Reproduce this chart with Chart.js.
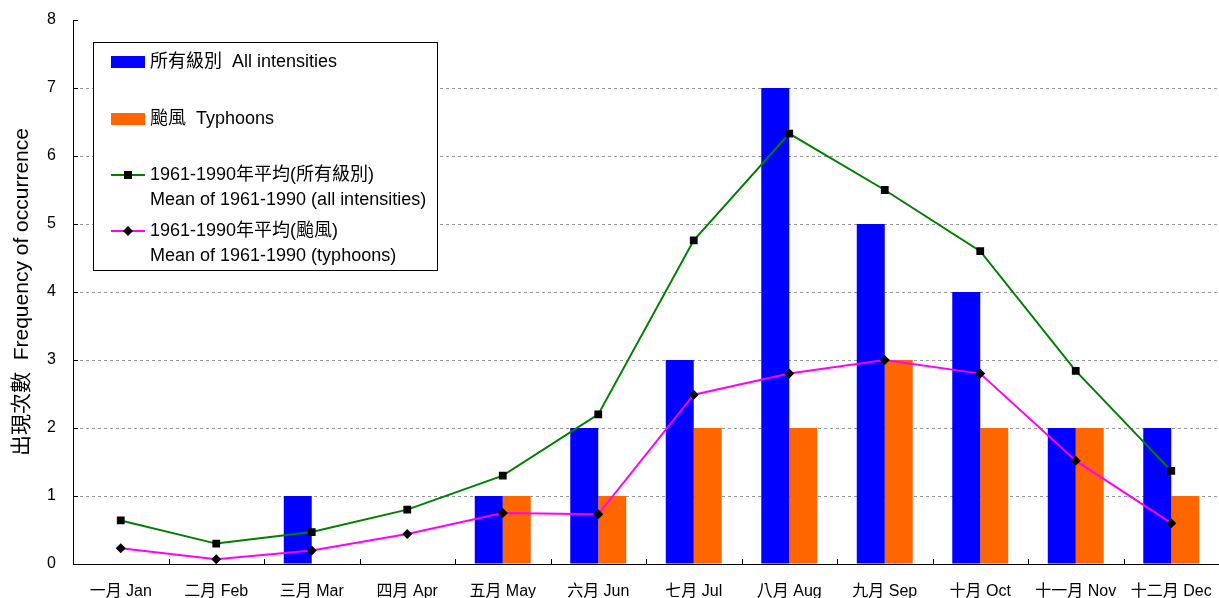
<!DOCTYPE html>
<html>
<head>
<meta charset="utf-8">
<script src="https://cdn.jsdelivr.net/npm/chart.js@4.4.1/dist/chart.umd.min.js"></script>
<style>
    html, body { margin: 0; padding: 0; background: #fff; overflow: hidden; }
    #wrap { width: 1219px; height: 598px; }
    #wrap canvas { display: block; }
</style>
</head>
<body>
<div id="wrap"><canvas id="tc-chart"></canvas></div>
<script>
// 每月熱帶氣旋出現次數 — 數值由原圖讀出
const months = ['一月 Jan', '二月 Feb', '三月 Mar', '四月 Apr', '五月 May', '六月 Jun',
    '七月 Jul', '八月 Aug', '九月 Sep', '十月 Oct', '十一月 Nov', '十二月 Dec'];
const allIntensities = [0, 0, 1, 0, 1, 2, 3, 7, 5, 4, 2, 2];
const typhoons = [0, 0, 0, 0, 1, 1, 2, 2, 3, 2, 2, 1];
const meanAll = [0.64, 0.30, 0.47, 0.80, 1.30, 2.20, 4.76, 6.33, 5.50, 4.60, 2.84, 1.37];
const meanTyphoons = [0.23, 0.07, 0.20, 0.44, 0.75, 0.73, 2.49, 2.80, 3.00, 2.80, 1.52, 0.60];
const yTitle = '出現次數  Frequency of occurrence';

const FONT = '"Liberation Sans", Arial, "Noto Sans CJK TC", sans-serif';

// legend in a framed box, top-left of the plot
const legendBox = {
    id: 'legendBox',
    afterDraw(chart) {
        const ctx = chart.ctx;
        const ds = chart.data.datasets;
        const x0 = 93, y0 = 42, w = 344, h = 228;
        ctx.save();
        ctx.fillStyle = '#fff';
        ctx.fillRect(x0, y0, w, h);
        ctx.strokeStyle = '#000';
        ctx.lineWidth = 1;
        ctx.strokeRect(x0 + 0.5, y0 + 0.5, w, h);

        ctx.font = '18px ' + FONT;
        ctx.textBaseline = 'middle';
        ctx.textAlign = 'left';

        const rows = [
            { d: ds[2], y: 62 },
            { d: ds[3], y: 119 },
            { d: ds[0], y: 175 },
            { d: ds[1], y: 231 },
        ];
        rows.forEach(({ d, y }) => {
            if (d.type === 'line') {
                ctx.strokeStyle = d.borderColor;
                ctx.lineWidth = 2;
                ctx.beginPath();
                ctx.moveTo(111, y);
                ctx.lineTo(145, y);
                ctx.stroke();
                ctx.fillStyle = '#000';
                ctx.beginPath();
                if (d.pointStyle === 'rect') {
                    ctx.rect(124, y - 4, 8, 8);
                } else {
                    ctx.moveTo(128, y - 5);
                    ctx.lineTo(133, y);
                    ctx.lineTo(128, y + 5);
                    ctx.lineTo(123, y);
                    ctx.closePath();
                }
                ctx.fill();
            } else {
                ctx.fillStyle = d.backgroundColor;
                ctx.fillRect(111, y - 6, 34, 12);
            }
            ctx.fillStyle = '#000';
            const lines = Array.isArray(d.label) ? d.label : [d.label];
            lines.forEach((t, i) => ctx.fillText(t, 150, y + i * 25));
        });
        ctx.restore();
    },
};

// short tick marks pointing into the plot
const innerTicks = {
    id: 'innerTicks',
    afterDatasetsDraw(chart) {
        const { ctx, scales: { x, y } } = chart;
        ctx.save();
        ctx.strokeStyle = '#000';
        ctx.lineWidth = 1;
        ctx.beginPath();
        y.ticks.forEach((t) => {
            const py = Math.round(y.getPixelForValue(t.value)) + 0.5;
            ctx.moveTo(x.left, py);
            ctx.lineTo(x.left + 5, py);
        });
        const n = x.ticks.length;
        for (let i = 1; i <= n; i++) {
            const px = Math.round(x.left + i * x.width / n) + 0.5;
            ctx.moveTo(px, y.bottom);
            ctx.lineTo(px, y.bottom - 5);
        }
        ctx.stroke();
        ctx.restore();
    },
};

new Chart(document.getElementById('tc-chart'), {
    type: 'bar',
    data: {
        labels: months,
        datasets: [
            {
                type: 'line',
                label: ['1961-1990年平均(所有級別)', 'Mean of 1961-1990 (all intensities)'],
                data: meanAll,
                borderColor: '#008000',
                borderWidth: 2,
                pointStyle: 'rect',
                pointRadius: 5.5,
                pointBackgroundColor: '#000',
                pointBorderColor: '#000',
                pointBorderWidth: 0,
                tension: 0,
                order: 0,
            },
            {
                type: 'line',
                label: ['1961-1990年平均(颱風)', 'Mean of 1961-1990 (typhoons)'],
                data: meanTyphoons,
                borderColor: '#FF00FF',
                borderWidth: 2,
                pointStyle: 'rectRot',
                pointRadius: 5,
                pointBackgroundColor: '#000',
                pointBorderColor: '#000',
                pointBorderWidth: 0,
                tension: 0,
                order: 0,
            },
            {
                label: '所有級別  All intensities',
                data: allIntensities,
                backgroundColor: '#0000FF',
                barPercentage: 1,
                categoryPercentage: 0.586,
                order: 1,
            },
            {
                label: '颱風  Typhoons',
                data: typhoons,
                backgroundColor: '#FF6600',
                barPercentage: 1,
                categoryPercentage: 0.586,
                order: 1,
            },
        ],
    },
    options: {
        responsive: true,
        maintainAspectRatio: false,
        animation: false,
        layout: { autoPadding: false, padding: { top: 20, right: 0, left: 0, bottom: 0 } },
        plugins: {
            legend: { display: false },
            tooltip: { enabled: false },
        },
        scales: {
            x: {
                grid: { display: false },
                border: { display: true, color: '#000', width: 1 },
                ticks: { color: '#000', font: { family: FONT, size: 16 }, padding: 10, maxRotation: 0, autoSkip: false },
                afterFit: (s) => {
                    s.height = 34;
                    s.paddingLeft = 0;
                    s.paddingRight = 0;
                },
            },
            y: {
                min: 0,
                max: 8,
                ticks: { stepSize: 1, color: '#000', font: { family: FONT, size: 16 }, padding: 17 },
                grid: {
                    drawTicks: false,
                    color: (c) => (c.tick && c.tick.value > 0 && c.tick.value < 8) ? '#999' : 'rgba(0,0,0,0)',
                    lineWidth: 1,
                },
                border: { display: true, color: '#000', width: 1, dash: [3, 3] },
                title: {
                    display: true,
                    text: yTitle,
                    color: '#000',
                    font: { family: FONT, size: 21 },
                    padding: { top: 10, bottom: 0 },
                },
                afterFit: (s) => {
                    s.width = 73;
                    s.paddingTop = 0;
                    s.paddingBottom = 0;
                },
            },
        },
    },
    plugins: [legendBox, innerTicks],
});
</script>
</body>
</html>
